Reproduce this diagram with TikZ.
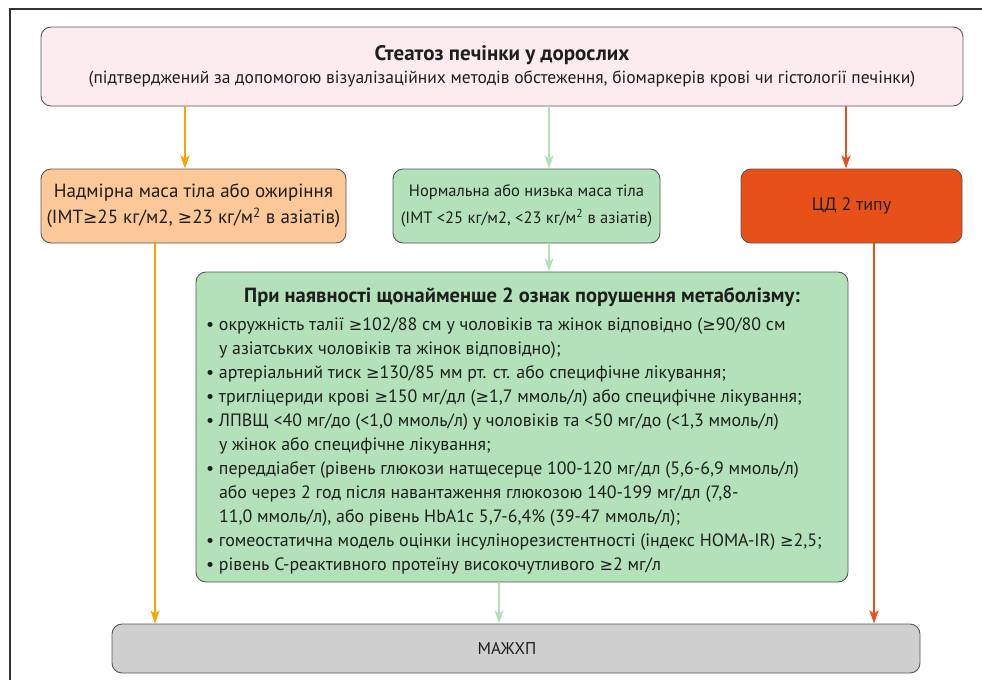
\documentclass[tikz,border=0pt]{standalone}
\usepackage{fontspec}
\setmainfont{PT Sans}
\newfontfamily\symf[Scale=0.9]{DejaVu Sans}
\usetikzlibrary{arrows.meta}
\definecolor{txt}{HTML}{1E1E1E}
\definecolor{pinkbg}{HTML}{FDECEF}
\definecolor{orangebg}{HTML}{FDC898}
\definecolor{greenbg}{HTML}{B3E2BA}
\definecolor{redbg}{HTML}{E8501A}
\definecolor{graybg}{HTML}{CFCFCF}
\definecolor{orangeln}{HTML}{F7A600}
\definecolor{greenln}{HTML}{B3E2BA}
\definecolor{redln}{HTML}{E8501A}
\definecolor{border}{HTML}{555555}
\newcommand{\gsym}{{\symf ≥}}
\newcommand{\itm}[1]{\par\hangindent=13pt\hangafter=1\noindent\makebox[13pt][l]{•}#1}
\begin{document}
\begin{tikzpicture}[x=1pt,y=-1pt,
  box/.style={draw=border, line width=0.9pt, rounded corners=10pt, inner sep=0pt, text=txt, align=center},
  conn/.style={line width=2.4pt, -{Stealth[length=13pt,width=9pt,inset=3pt]}},
]
\useasboundingbox (0,0) rectangle (982,680);
\draw[line width=1.2pt, color=black!80] (10,680) -- (10,9) -- (982,9);

\node[box, fill=pinkbg, minimum width=922pt, minimum height=79pt] (top) at (502,66.5)
  {{\fontsize{21}{24}\selectfont\bfseries Стеатоз печінки у дорослих}\\[5pt]
   {\fontsize{17.5}{22}\selectfont (підтверджений за допомогою візуалізаційних методів обстеження, біомаркерів крові чи гістології печінки)}};

\node[box, fill=orangebg, minimum width=305pt, minimum height=74pt, font=\fontsize{19}{26}\selectfont] (over) at (193.5,206)
  {Надмірна маса тіла або ожиріння\\(ІМТ\gsym25 кг/м2, \gsym23 кг/м\textsuperscript{2} в азіатів)};

\node[box, fill=greenbg, minimum width=267pt, minimum height=74pt, font=\fontsize{16.5}{27}\selectfont] (norm) at (526.5,206)
  {Нормальна або низька маса тіла\\(ІМТ <25 кг/м2, <23 кг/м\textsuperscript{2} в азіатів)};

\node[box, fill=redbg, minimum width=221pt, minimum height=74pt, font=\fontsize{18}{26}\selectfont] (dm) at (851.5,206)
  {ЦД 2 типу};

\node[box, fill=greenbg, minimum width=652pt, minimum height=310pt, align=left] (crit) at (522,427)
  {\parbox{632pt}{\fontsize{17.9}{24}\selectfont\raggedright
   \vspace*{8pt}
   {\centering\bfseries\fontsize{20.5}{27}\selectfont При наявності щонайменше 2 ознак порушення метаболізму:\par}
   \vspace{4pt}
   \itm{окружність талії \gsym102/88 см у чоловіків та жінок відповідно (\gsym90/80 см\newline у азіатських чоловіків та жінок відповідно);}
   \itm{артеріальний тиск \gsym130/85 мм рт. ст. або специфічне лікування;}
   \itm{тригліцериди крові \gsym150 мг/дл (\gsym1,7 ммоль/л) або специфічне лікування;}
   \itm{ЛПВЩ <40 мг/до (<1,0 ммоль/л) у чоловіків та <50 мг/до (<1,3 ммоль/л)\newline у жінок або специфічне лікування;}
   \itm{переддіабет (рівень глюкози натщесерце 100-120 мг/дл (5,6-6,9 ммоль/л)\newline або через 2 год після навантаження глюкозою 140-199 мг/дл (7,8-\newline 11,0 ммоль/л), або рівень HbA1c 5,7-6,4\% (39-47 ммоль/л);}
   \itm{гомеостатична модель оцінки інсулінорезистентності (індекс HOMA-IR) \gsym2,5;}
   \itm{рівень С-реактивного протеїну високочутливого \gsym2 мг/л}\par}};

\node[box, fill=graybg, minimum width=808pt, minimum height=49pt, font=\fontsize{17}{22}\selectfont] (mash) at (516,648.5)
  {МАЖХП\hspace*{18pt}};

\coordinate (xa) at (185,0);
\coordinate (xb) at (549,0);
\coordinate (xc) at (846,0);
\coordinate (xd) at (155,0);
\coordinate (xe) at (499,0);
\coordinate (xf) at (874,0);

\draw[conn, orangeln] (top.south -| xa) -- (over.north -| xa);
\draw[conn, greenln] (top.south -| xb) -- (norm.north -| xb);
\draw[conn, redln] (top.south -| xc) -- (dm.north -| xc);
\draw[conn, orangeln] (over.south -| xd) -- (mash.north -| xd);
\draw[conn, greenln] (norm.south -| xb) -- (crit.north -| xb);
\draw[conn, greenln] (crit.south -| xe) -- (mash.north -| xe);
\draw[conn, redln] (dm.south -| xf) -- (mash.north -| xf);
\end{tikzpicture}
\end{document}
